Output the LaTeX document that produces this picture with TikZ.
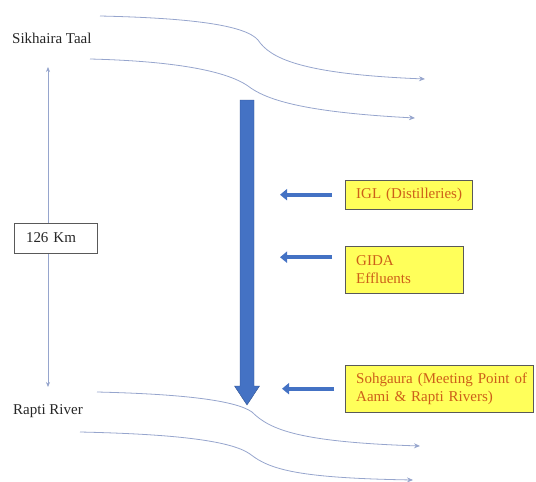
\documentclass[tikz,border=0pt]{standalone}
\usepackage{fontspec}
\setmainfont{Liberation Serif}
\usetikzlibrary{arrows.meta}
\definecolor{riverline}{RGB}{150,165,205}
\definecolor{flowblue}{RGB}{68,114,196}
\definecolor{flowedge}{RGB}{47,82,143}
\definecolor{srcfill}{RGB}{255,255,90}
\definecolor{srctext}{RGB}{205,95,25}

\begin{document}
\begin{tikzpicture}[x=1pt,y=-1pt,
    river/.style={riverline,line width=0.8pt,-{Stealth[length=6pt,width=5pt]}},
    srcbox/.style={draw=black!65,fill=srcfill,text=srctext,anchor=north west,align=left,
        inner xsep=11pt,inner ysep=2pt,font=\fontsize{15}{17.5}\selectfont},
    srcarrow/.style={flowblue,line width=4pt,-{Triangle[length=7pt,width=11pt]}},
    lbl/.style={anchor=base west,inner sep=0pt,text=black!85,font=\fontsize{15}{17.5}\selectfont}]
    \useasboundingbox (0,0) rectangle (536,482);
    % rivers
    \draw[river] (100,16) .. controls (190,18) and (245,25) .. (258,40) .. controls (270,58) and (300,74) .. (425,79);
    \draw[river] (90,59) .. controls (170,61) and (225,70) .. (248,86) .. controls (265,99) and (300,112) .. (415,118);
    \draw[river] (97,392) .. controls (180,394) and (235,400) .. (252,412) .. controls (270,430) and (300,442) .. (420,446);
    \draw[river] (80,432) .. controls (170,434) and (230,440) .. (250,454) .. controls (270,470) and (300,478) .. (413,480);
    \node[lbl] (taal) at (12,43) {Sikhaira Taal};
    \node[lbl] (rapti) at (13,414) {Rapti River};
    % distance
    \coordinate (kmtop) at (48,67);
    \coordinate (kmbot) at (48,387);
    \draw[riverline,line width=0.7pt,{Stealth[length=5pt,width=4pt]}-{Stealth[length=5pt,width=4pt]}] (kmtop) -- (kmbot);
    \node[draw=black!65,fill=white,minimum width=83pt,minimum height=30pt,text width=59pt,
        inner xsep=12pt,align=left,text=black!85,font=\fontsize{15}{17.5}\selectfont] (dist) at (55.5,238) {126 Km};
    % flow
    \fill[flowblue,draw=flowedge,line width=0.4pt] (240,100) -- (254,100) -- (254,386) -- (259.5,386)
        -- (247,405) -- (234.5,386) -- (240,386) -- cycle;
    \node[srcbox,text width=105pt,minimum height=29pt] (igl) at (345,180) {\mbox{IGL (Distilleries)}};
    \node[srcbox,text width=96pt,minimum height=47pt] (gida) at (345,246) {GIDA\\Effluents};
    \node[srcbox,text width=166pt,minimum height=47pt] (sohg) at (345,365)
        {\mbox{Sohgaura (Meeting Point of}\\\mbox{Aami \& Rapti Rivers)}};
    \draw[srcarrow] ([xshift=-13pt]igl.west) -- ++(-52,0);
    \draw[srcarrow] ([xshift=-13pt,yshift=12.5pt]gida.west) -- ++(-52,0);
    \draw[srcarrow] ([xshift=-11pt]sohg.west) -- ++(-52,0);
\end{tikzpicture}
\end{document}
